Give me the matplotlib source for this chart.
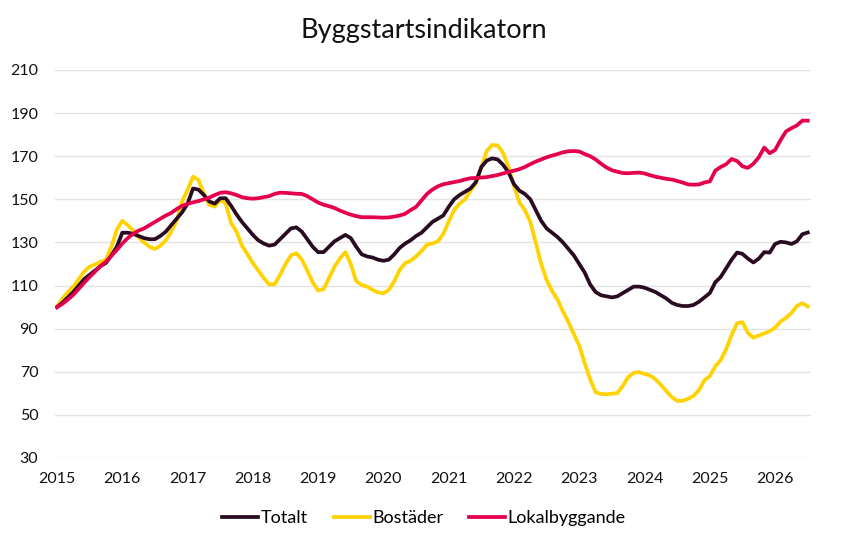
import numpy as np
import pandas as pd
import matplotlib
matplotlib.use("Agg")
import matplotlib.pyplot as plt

plt.rcParams['font.family'] = ['Lato', 'DejaVu Sans']

# monthly index, jan 2015 - jul 2026
dates = pd.date_range("2015-01-01", "2026-07-01", freq="MS")
years = dates.year + (dates.month - 1) / 12

totalt = [
    100, 102, 104.5, 107, 110, 113, 115, 117, 119, 120.5, 124, 128,
    134.5, 134.5, 134, 133, 132, 131.5, 131.5, 133, 135, 138, 141, 144,
    148, 155, 154.5, 152, 149, 148, 150.5, 150.5, 147, 143, 139.5, 136.5,
    133.5, 131, 129.5, 128.5, 129, 131.5, 134, 136.5, 137, 135, 131.5, 128,
    125.5, 125.5, 128, 130.5, 132, 133.5, 132, 128, 124.5, 123.5, 123, 122,
    121.5, 122, 124.5, 127.5, 129.5, 131, 133, 134.5, 137, 139.5, 141, 142.5,
    146.5, 150, 152, 153.5, 155, 158, 165, 168, 169, 168.5, 166, 162.5,
    157, 154, 152.5, 150, 145, 140, 136.5, 134.5, 132.5, 130, 127, 124,
    120, 116, 110.5, 107, 105.5, 105, 104.5, 105, 106.5, 108, 109.5, 109.5,
    109, 108, 107, 105.5, 104, 102, 101, 100.5, 100.5, 101, 102.5, 104.5,
    106.5, 111.5, 114, 118, 122, 125.3, 124.7, 122.5, 120.7, 122.5, 125.5, 125.3,
    129.3, 130.3, 130, 129.3, 130.5, 133.8, 134.6,
]

bostader = [
    100.3, 104, 107, 109.5, 113, 116.5, 118.8, 119.8, 121, 122, 128, 136,
    140, 138, 135.5, 132.5, 130, 128, 127, 128.5, 131, 135, 140, 149,
    154.4, 160.5, 159, 152.8, 147.4, 146.6, 149.7, 148.2, 139, 135, 128.5, 124.5,
    120.4, 117, 113.5, 110.5, 110.6, 115, 120, 124, 125, 122, 117, 111.5,
    107.7, 108.3, 113.5, 118.8, 122.5, 125.5, 120, 112, 110.3, 109.5, 108, 106.8,
    106.4, 108, 112, 117.3, 120.4, 121.5, 123.5, 126, 129, 129.5, 130.5, 134,
    139.7, 145, 148, 150, 154, 157.5, 165, 172.5, 175.2, 175, 171.5, 165,
    156, 148.5, 145, 139.5, 130, 120, 112.6, 107.5, 103.5, 98, 93, 87.5,
    82, 74, 66.5, 60.5, 59.7, 59.6, 59.8, 60.1, 63.5, 67.5, 69.5, 69.8,
    69, 68.3, 66.5, 64, 61, 58.3, 56.5, 56.5, 57.5, 58.8, 61.5, 66,
    68, 72.5, 75.5, 80.5, 87, 92.5, 93, 88, 85.8, 86.8, 87.8, 88.8,
    90.5, 93.3, 95, 97.3, 100.5, 101.8, 100.3,
]

lokal = [
    100, 101.5, 103.5, 105.7, 108.5, 111.3, 114, 116.5, 119, 121.1, 123.8, 126.5,
    129.5, 132, 134, 135.5, 136.5, 138, 139.5, 141, 142.5, 143.7, 145.5, 147,
    147.9, 148.6, 149.2, 150, 150.8, 152, 153, 153.3, 152.8, 152, 151, 150.5,
    150.3, 150.5, 151, 151.5, 152.5, 153.1, 153, 152.8, 152.6, 152.5, 151.5, 150,
    148.5, 147.5, 146.8, 146, 144.8, 143.8, 142.9, 142.2, 141.7, 141.7, 141.7, 141.6,
    141.5, 141.6, 142, 142.5, 143.3, 145, 146.5, 149.5, 152.5, 154.5, 156, 157,
    157.5, 158, 158.5, 159.2, 159.8, 159.9, 160.1, 160.3, 160.8, 161.3, 162, 162.7,
    163.3, 164, 165, 166.3, 167.5, 168.5, 169.5, 170.3, 171, 171.8, 172.3, 172.4,
    172.2, 171, 170, 168.5, 166.5, 164.8, 163.5, 162.8, 162.2, 162.1, 162.3, 162.4,
    162, 161.2, 160.5, 160, 159.5, 159.2, 158.5, 157.8, 156.9, 156.8, 156.9, 157.8,
    158.3, 163.3, 165, 166.3, 168.7, 167.8, 165.3, 164.6, 166.5, 169.5, 174, 171.4,
    172.9, 177.5, 181.5, 183, 184.3, 186.5, 186.5,
]

yticks = list(range(30, 211, 20))
xticks = list(range(2015, 2027))

fig = plt.figure(figsize=(8.48, 5.46), dpi=100)
ax = fig.add_axes([0.0649, 0.1612, 0.8915, 0.7106])

ax.plot(years, totalt, color="#2a0c22", lw=2.7, label="Totalt", zorder=3)
ax.plot(years, bostader, color="#ffd200", lw=2.7, label="Bostäder", zorder=2)
ax.plot(years, lokal, color="#e5004e", lw=2.7, label="Lokalbyggande", zorder=4)

ax.set_xlim(2014.97, 2026.55)
ax.set_ylim(30, 210)
ax.set_yticks(yticks)
ax.set_xticks(xticks)
ax.grid(axis="y", color="#e3e3e3", lw=1.0)
ax.set_axisbelow(True)
for s in ax.spines.values():
    s.set_visible(False)
ax.tick_params(axis="both", length=0, labelsize=11.5, colors="#111111")
ax.tick_params(axis="y", pad=12)
ax.tick_params(axis="x", pad=10)

fig.text(0.5, 0.945, "Byggstartsindikatorn", ha="center", va="center",
         fontsize=19.5, color="#111111")

fig.legend(loc="center", bbox_to_anchor=(0.5, 0.051), ncol=3, frameon=False,
           fontsize=13, handlelength=2.0, handletextpad=0.15, columnspacing=1.4)

fig.savefig("out.png", dpi=100)
